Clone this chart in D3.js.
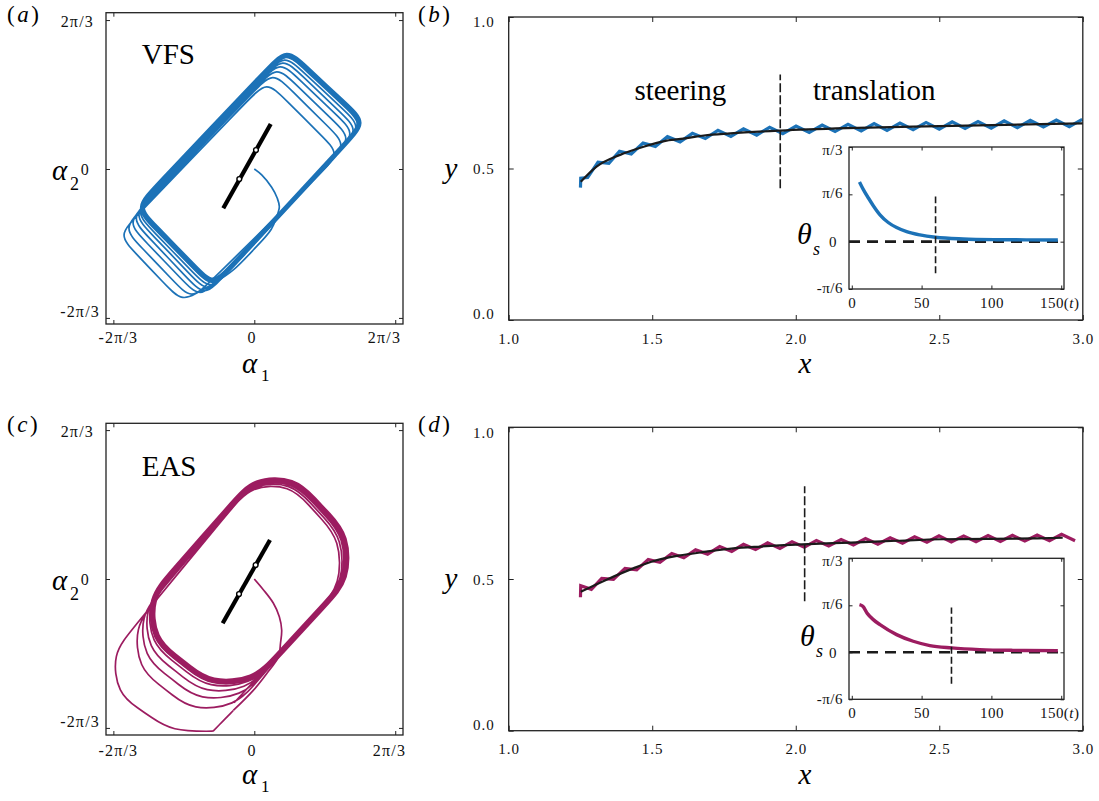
<!DOCTYPE html>
<html>
<head>
<meta charset="utf-8">
<script src="https://cdn.jsdelivr.net/npm/d3@7"></script>
<style>
  body { margin: 0; background: #fff; }
  svg { display: block; font-family: "Liberation Serif", "Times New Roman", serif; }
</style>
</head>
<body>
<svg id="fig" width="1099" height="801"></svg>
<script>
const PI = Math.PI

// ---------- (a) VFS phase portrait, values in (alpha1, alpha2) ----------
const vfsTransient = [[0.0, 0.0], [0.11, -0.084], [0.258, -0.258], [0.342, -0.412], [0.372, -0.53], [0.333, -0.671],
    [0.25, -0.85], [-0.015, -1.139], [-0.312, -1.42], [-0.56, -1.585]]
// loop corners, first loop to last (bottom, left, top, right)
const vfsBottom = [[-1.08, -1.866], [-0.931, -1.842], [-0.807, -1.819], [-0.733, -1.796], [-0.684, -1.749], [-0.649, -1.711], [-0.619, -1.678], [-0.609, -1.646]]
const vfsLeft = [[-2.021, -0.928], [-1.948, -0.834], [-1.887, -0.755], [-1.838, -0.694], [-1.799, -0.647], [-1.774, -0.609], [-1.759, -0.577], [-1.749, -0.539]]
const vfsTop = [[0.183, 1.238], [0.272, 1.369], [0.332, 1.449], [0.381, 1.519], [0.421, 1.571], [0.446, 1.613], [0.466, 1.650], [0.480, 1.683]]
const vfsRight = [[1.273, 0.211], [1.372, 0.338], [1.446, 0.431], [1.506, 0.502], [1.555, 0.549], [1.595, 0.595], [1.620, 0.628], [1.644, 0.652]]
const vfsCycle = [[-0.609, -1.646], [-1.749, -0.539], [0.480, 1.683], [1.644, 0.652]]
const vfsBody = [[-0.461, -0.553], [0.244, 0.633]]
const vfsJoints = [[-0.223, -0.141], [0.025, 0.267]]

// ---------- (c) EAS phase portrait ----------
const easTransient = [[0.0, 0.0], [0.134, -0.15], [0.282, -0.338], [0.372, -0.53], [0.407, -0.717], [0.39, -0.9],
    [0.357, -1.096], [0.183, -1.332], [-0.015, -1.567], [-0.312, -1.849]]
const easBottom = [[-0.86, -2.38], [-0.57, -2.11], [-0.47, -1.97], [-0.40, -1.87], [-0.34, -1.80], [-0.31, -1.76]]
const easLeft = [[-2.40, -1.38], [-2.07, -1.00], [-1.99, -0.84], [-1.93, -0.73], [-1.89, -0.65], [-1.86, -0.61]]
const easTop = [[0.23, 1.64], [0.25, 1.67], [0.27, 1.69], [0.28, 1.70], [0.285, 1.71], [0.29, 1.72]]
const easRight = [[1.58, 0.24], [1.62, 0.26], [1.65, 0.28], [1.67, 0.29], [1.68, 0.30], [1.69, 0.30]]
const easCycle = [[-0.30, -1.74], [-1.85, -0.59], [0.29, 1.72], [1.69, 0.30]]
const easBody = [[-0.47, -0.623], [0.233, 0.549]]
const easJoints = [[-0.227, -0.211], [0.02, 0.197]]

const phaseTicks = [-2 * PI / 3, 0, 2 * PI / 3]
const phaseLabels = ["-2π/3", "0", "2π/3"]

// ---------- (b) VFS track (x, y) ----------
const vfsTrackX = [1.250, 1.251, 1.275, 1.311, 1.349, 1.386, 1.427, 1.468, 1.511, 1.553, 1.597, 1.640, 1.685, 1.729, 1.774,
    1.818, 1.864, 1.909, 1.955, 2.001, 2.047, 2.092, 2.137, 2.182, 2.228, 2.273, 2.318, 2.363, 2.409, 2.454, 2.500,
    2.545, 2.590, 2.635, 2.681, 2.726, 2.772, 2.817, 2.863, 2.908, 2.953, 2.998]
const vfsTrackY = [0.437, 0.468, 0.470, 0.521, 0.517, 0.557, 0.548, 0.584, 0.573, 0.605, 0.588, 0.616, 0.599, 0.626, 0.606,
    0.631, 0.610, 0.636, 0.615, 0.640, 0.619, 0.643, 0.622, 0.646, 0.624, 0.648, 0.626, 0.650, 0.628, 0.652, 0.630,
    0.654, 0.632, 0.655, 0.633, 0.657, 0.635, 0.659, 0.637, 0.660, 0.638, 0.662]
const vfsMeanX = [1.251, 1.306, 1.388, 1.47, 1.55, 1.62, 1.68, 1.772, 1.945, 2.177, 2.5, 3.0]
const vfsMeanY = [0.456, 0.506, 0.545, 0.572, 0.592, 0.600, 0.609, 0.616, 0.625, 0.633, 0.640, 0.649]
const vfsSwitchX = 1.946
const vfsSwitchY = [0.435, 0.81]

// ---------- (d) EAS track ----------
const easTrackX = [1.250, 1.251, 1.288, 1.324, 1.365, 1.405, 1.446, 1.486, 1.527, 1.568, 1.610, 1.651, 1.693, 1.735, 1.777,
    1.818, 1.860, 1.902, 1.945, 1.987, 2.030, 2.072, 2.115, 2.158, 2.201, 2.243, 2.286, 2.329, 2.372, 2.414, 2.457,
    2.499, 2.542, 2.585, 2.628, 2.670, 2.713, 2.755, 2.798, 2.841, 2.884, 2.926, 2.973]
const easTrackY = [0.440, 0.478, 0.466, 0.502, 0.499, 0.535, 0.530, 0.564, 0.555, 0.584, 0.570, 0.596, 0.582, 0.607, 0.591,
    0.614, 0.597, 0.619, 0.601, 0.623, 0.605, 0.627, 0.609, 0.630, 0.612, 0.633, 0.615, 0.636, 0.618, 0.639, 0.621,
    0.642, 0.622, 0.642, 0.623, 0.643, 0.624, 0.644, 0.625, 0.645, 0.626, 0.647, 0.626]
const easMeanX = [1.251, 1.339, 1.434, 1.497, 1.592, 1.688, 1.783, 1.878, 2.043, 2.193, 2.352, 2.511, 2.671, 2.83, 2.93]
const easMeanY = [0.458, 0.497, 0.535, 0.557, 0.577, 0.590, 0.601, 0.607, 0.615, 0.620, 0.626, 0.631, 0.632, 0.634, 0.636]
const easSwitchX = 2.031
const easSwitchY = [0.427, 0.806]

const trackXTicks = [1.0, 1.5, 2.0, 2.5, 3.0]
const trackXLabels = ["1.0", "1.5", "2.0", "2.5", "3.0"]
const trackYTicks = [0.0, 0.5, 1.0]
const trackYLabels = ["0.0", "0.5", "1.0"]

// ---------- insets: steering angle theta_s over t ----------
const vfsThetaT = [5.5, 8.3, 11.9, 15.4, 20.2, 26.1, 32.1, 39.3, 48.8, 60, 79.7, 103.6, 125, 147.6]
const vfsTheta = [0.661, 0.576, 0.483, 0.398, 0.297, 0.212, 0.156, 0.111, 0.075, 0.049, 0.030, 0.022, 0.020, 0.019]
const vfsThetaSwitch = 60
const easThetaT = [5.5, 7.9, 11.2, 15.4, 20.2, 32.1, 44, 55.9, 71.4, 91.6, 115.4, 147.6]
const easTheta = [0.531, 0.512, 0.431, 0.364, 0.308, 0.197, 0.123, 0.075, 0.049, 0.030, 0.022, 0.019]
const easThetaSwitch = 71.4
const insetSwitchTheta = [-0.35, 0.5]

const insetXTicks = [0, 50, 100, 150]
const insetXLabels = ["0", "50", "100", "150"]
const insetYTicks = [-PI / 6, 0, PI / 6, PI / 3]
const insetYLabels = ["-π/6", "0", "π/6", "π/3"]

const BLUE = "#1c72b7"
const PURPLE = "#9c1c60"
const INK = "#1b1b1b"

const svg = d3.select("#fig")
svg.append("rect").attr("width", 1099).attr("height", 801).attr("fill", "#fff")

function boxAxes(g, x, y, o) {
    const [x0, x1] = x.range(), [y0, y1] = y.range()
    const bottom = g.append("g").attr("transform", `translate(0,${y0})`)
        .call(d3.axisBottom(x).tickValues(o.xTicks).tickFormat((d, i) => o.xLabels[i])
            .tickSizeInner(-o.tick).tickSizeOuter(0).tickPadding(o.xPad))
    g.append("g").attr("transform", `translate(0,${y1})`)
        .call(d3.axisTop(x).tickValues(o.xTicks).tickFormat("").tickSizeInner(-o.tick).tickSizeOuter(0))
    const left = g.append("g").attr("transform", `translate(${x0},0)`)
        .call(d3.axisLeft(y).tickValues(o.yTicks).tickFormat((d, i) => o.yLabels[i])
            .tickSizeInner(-o.tick).tickSizeOuter(0).tickPadding(o.yPad))
    g.append("g").attr("transform", `translate(${x1},0)`)
        .call(d3.axisRight(y).tickValues(o.yTicks).tickFormat("").tickSizeInner(-o.tick).tickSizeOuter(0))
    g.selectAll(".domain").remove()
    g.selectAll(".tick line").attr("stroke", "#222").attr("stroke-width", 1)
    g.append("rect").attr("x", x0).attr("y", y1).attr("width", x1 - x0).attr("height", y0 - y1)
        .attr("fill", "none").attr("stroke", "#222").attr("stroke-width", 1.3)

    g.selectAll(".tick text")
        .style("font-family", '"Liberation Serif", "Times New Roman", serif')
        .style("font-size", o.fontSize + "px")
        .style("letter-spacing", (o.spacing || 0) + "px")
        .attr("fill", "#111")
    const xo = o.xOff || [], yo = o.yOff || []
    bottom.selectAll(".tick text").attr("transform", (d, i) => `translate(${xo[i] || 0},0)`)
    left.selectAll(".tick text").attr("transform", (d, i) => yo[i] ? `translate(${yo[i][0]},${yo[i][1]})` : null)
    return { bottom, left }
}

// corner points -> B-spline control points that round each corner by r
// soft: the corner itself is replaced by two points per side, which rounds it more
function towards(p, q, r) {
    const dx = q[0] - p[0], dy = q[1] - p[1], L = Math.hypot(dx, dy)
    const t = Math.min(r, L * 0.45) / L
    return [p[0] + dx * t, p[1] + dy * t]
}
function roundCorners(pts, r, closed, soft) {
    const out = [], n = pts.length
    pts.forEach((p, i) => {
        const prev = closed ? pts[(i - 1 + n) % n] : pts[i - 1]
        const next = closed ? pts[(i + 1) % n] : pts[i + 1]
        const inner = soft && prev && next
        if (prev && inner) out.push(towards(p, prev, 2 * r))
        if (prev) out.push(towards(p, prev, r))
        if (!inner) out.push(p)
        if (next) out.push(towards(p, next, r))
        if (next && inner) out.push(towards(p, next, 2 * r))
    })
    return out
}

function phasePanel(o) {
    const x = d3.scaleLinear().domain([-2.204, 2.21]).range([106, 403])
    const y = d3.scaleLinear().domain(o.yDomain).range(o.yRange)
    const g = svg.append("g")
    const clipId = "clip" + o.tag
    g.append("clipPath").attr("id", clipId).append("rect")
        .attr("x", 106).attr("y", o.yRange[1]).attr("width", 297).attr("height", o.yRange[0] - o.yRange[1])

    const line = d3.line().x(d => x(d[0])).y(d => y(d[1]))
    const plot = g.append("g").attr("clip-path", `url(#${clipId})`)

    // converged limit cycle: a dense band
    plot.append("path").datum(roundCorners(o.cycle, o.round, true, o.soft))
        .attr("d", line.curve(d3.curveBasisClosed)).attr("fill", "none")
        .attr("stroke", o.color).attr("stroke-width", o.band)

    // transient from the start point
    plot.append("path").datum(o.transient)
        .attr("d", d3.line().x(d => x(d[0])).y(d => y(d[1])).curve(d3.curveCatmullRom)).attr("fill", "none")
        .attr("stroke", o.color).attr("stroke-width", 1.7)

    const corners = [o.transient[o.transient.length - 1]]
    o.bottom.forEach((b, k) => corners.push(b, o.left[k], o.top[k], o.right[k]))
    corners.push(o.cycle[0])
    plot.append("path").datum(roundCorners(corners, o.round, false, o.soft))
        .attr("d", line.curve(d3.curveBasis)).attr("fill", "none")
        .attr("stroke", o.color).attr("stroke-width", 1.7).attr("stroke-linejoin", "round")

    // swimmer body with its two joints
    plot.append("path").datum(o.body).attr("d", d3.line().x(d => x(d[0])).y(d => y(d[1])))
        .attr("stroke", "#000").attr("stroke-width", 4.2).attr("stroke-linecap", "butt")
    plot.selectAll("circle.joint").data(o.joints).join("circle").attr("class", "joint")
        .attr("cx", d => x(d[0])).attr("cy", d => y(d[1])).attr("r", 2.4)
        .attr("fill", "#fff").attr("stroke", "#000").attr("stroke-width", 1.4)

    boxAxes(g, x, y, {
        xTicks: phaseTicks, xLabels: phaseLabels, yTicks: phaseTicks, yLabels: phaseLabels,
        tick: 4, xPad: o.xPad, yPad: 6, fontSize: 16, spacing: 1.2,
        xOff: o.xOff, yOff: [[0, -7], [-10, 0], [-6, 1.7]]
    })

    g.append("text").attr("x", 141.7).attr("y", o.nameY).attr("font-size", 29).text(o.name)
    const lab = g.append("text").attr("x", 7).attr("y", o.tagY).attr("font-size", 23).style("letter-spacing", "2.5px")
    lab.append("tspan").text("(")
    lab.append("tspan").attr("font-style", "italic").text(o.tag)
    lab.append("tspan").text(")")

    g.append("text").attr("x", 242).attr("y", o.a1Y).attr("font-size", 29).attr("font-style", "italic").text("α")
    g.append("text").attr("x", 261).attr("y", o.a1Y + 8).attr("font-size", 17).text("1")
    g.append("text").attr("x", 52).attr("y", o.a2Y).attr("font-size", 29).attr("font-style", "italic").text("α")
    g.append("text").attr("x", 70).attr("y", o.a2Y + 10).attr("font-size", 18).text("2")
}

function trackPanel(o) {
    const x = d3.scaleLinear().domain([1, 3]).range([508.7, 1082.8])
    const y = d3.scaleLinear().domain([0, 1]).range(o.yRange)
    const g = svg.append("g")

    const track = o.trackX.map((v, i) => [v, o.trackY[i]])
    const mean = o.meanX.map((v, i) => [v, o.meanY[i]])
    g.append("path").datum(track)
        .attr("d", d3.line().x(d => x(d[0])).y(d => y(d[1])))
        .attr("fill", "none").attr("stroke", o.color).attr("stroke-width", 3.2).attr("stroke-linejoin", "miter")
    g.append("path").datum(mean)
        .attr("d", d3.line().x(d => x(d[0])).y(d => y(d[1])).curve(d3.curveMonotoneX))
        .attr("fill", "none").attr("stroke", INK).attr("stroke-width", 2.2)

    g.append("line").attr("x1", x(o.switchX)).attr("x2", x(o.switchX))
        .attr("y1", y(o.switchY[0])).attr("y2", y(o.switchY[1]))
        .attr("stroke", INK).attr("stroke-width", 1.6).attr("stroke-dasharray", "9,3")

    boxAxes(g, x, y, {
        xTicks: trackXTicks, xLabels: trackXLabels, yTicks: trackYTicks, yLabels: trackYLabels,
        tick: 5, xPad: 13, yPad: 14, fontSize: 15, spacing: 1,
        yOff: [[0, -6], [0, 0.5], [0, 5]]
    })

    const lab = g.append("text").attr("x", 418).attr("y", o.tagY).attr("font-size", 23).style("letter-spacing", "2.5px")
    lab.append("tspan").text("(")
    lab.append("tspan").attr("font-style", "italic").text(o.tag)
    lab.append("tspan").text(")")
    g.append("text").attr("x", 451).attr("y", o.yLabY).attr("text-anchor", "middle")
        .attr("font-size", 29).attr("font-style", "italic").text("y")
    g.append("text").attr("x", 805).attr("y", o.xLabY).attr("text-anchor", "middle")
        .attr("font-size", 29).attr("font-style", "italic").text("x")
    if (o.phases) {
        g.append("text").attr("x", 634.4).attr("y", 100).attr("font-size", 29).text("steering")
        g.append("text").attr("x", 813).attr("y", 100).attr("font-size", 29).text("translation")
    }

    // inset
    const tx = d3.scaleLinear().domain([-2, 152]).range([849, 1064])
    const ty = d3.scaleLinear().domain([-PI / 6, PI / 3]).range(o.insetRange)
    const ig = g.append("g")
    ig.append("rect").attr("x", 849).attr("y", o.insetRange[1]).attr("width", 215)
        .attr("height", o.insetRange[0] - o.insetRange[1]).attr("fill", "#fff")
    ig.append("line").attr("x1", tx(-2)).attr("x2", tx(152)).attr("y1", ty(0)).attr("y2", ty(0))
        .attr("stroke", INK).attr("stroke-width", 2.6).attr("stroke-dasharray", "11,7")
    ig.append("path").datum(o.thetaT.map((t, i) => [t, o.theta[i]]))
        .attr("d", d3.line().x(d => tx(d[0])).y(d => ty(d[1])).curve(d3.curveMonotoneX))
        .attr("fill", "none").attr("stroke", o.color).attr("stroke-width", 3.4)
    ig.append("line").attr("x1", tx(o.thetaSwitch)).attr("x2", tx(o.thetaSwitch))
        .attr("y1", ty(insetSwitchTheta[0])).attr("y2", ty(insetSwitchTheta[1]))
        .attr("stroke", INK).attr("stroke-width", 1.6).attr("stroke-dasharray", "7,3")

    const ax = boxAxes(ig, tx, ty, {
        xTicks: insetXTicks, xLabels: insetXLabels, yTicks: insetYTicks, yLabels: insetYLabels,
        tick: 3.5, xPad: 8, yPad: 6, fontSize: 15, spacing: 0.5,
        xOff: [0, 0, 0, -2], yOff: [[0, -1], [-6, 0], [0, -1.5], [0, 2.5]]
    })
    ax.bottom.selectAll(".tick text").filter(d => d === 150).each(function () {
        const t = d3.select(this).text("150")
        t.append("tspan").text("(")
        t.append("tspan").attr("font-style", "italic").text("t")
        t.append("tspan").text(")")
    })
    ig.append("text").attr("x", o.thX).attr("y", o.thY).attr("font-size", 30).attr("font-style", "italic").text("θ")
    ig.append("text").attr("x", o.thX + 16).attr("y", o.thY + 11).attr("font-size", 18).attr("font-style", "italic").text("s")
}

phasePanel({
    tag: "a", name: "VFS", color: BLUE, yDomain: [-2.18, 2.198], yRange: [324, 12.7],
    transient: vfsTransient, bottom: vfsBottom, left: vfsLeft, top: vfsTop, right: vfsRight,
    cycle: vfsCycle, round: 0.36, soft: false, band: 5, body: vfsBody, joints: vfsJoints,
    xPad: 8, xOff: [4.5, -2.6, -11.3], nameY: 64.3, tagY: 22, a1Y: 373, a2Y: 180
})
phasePanel({
    tag: "c", name: "EAS", color: PURPLE, yDomain: [-2.194, 2.19], yRange: [735, 423.3],
    transient: easTransient, bottom: easBottom, left: easLeft, top: easTop, right: easRight,
    cycle: easCycle, round: 0.44, soft: true, band: 6, body: easBody, joints: easJoints,
    xPad: 10, xOff: [4.5, -2.6, -6.3], nameY: 476, tagY: 432, a1Y: 784, a2Y: 590
})
trackPanel({
    tag: "b", color: BLUE, yRange: [320, 17], trackX: vfsTrackX, trackY: vfsTrackY,
    meanX: vfsMeanX, meanY: vfsMeanY, switchX: vfsSwitchX, switchY: vfsSwitchY, phases: true,
    tagY: 22, yLabY: 178, xLabY: 373, insetRange: [289, 147],
    thetaT: vfsThetaT, theta: vfsTheta, thetaSwitch: vfsThetaSwitch, thX: 797, thY: 244
})
trackPanel({
    tag: "d", color: PURPLE, yRange: [730.7, 427.3], trackX: easTrackX, trackY: easTrackY,
    meanX: easMeanX, meanY: easMeanY, switchX: easSwitchX, switchY: easSwitchY, phases: false,
    tagY: 432, yLabY: 588, xLabY: 784, insetRange: [699.3, 558.3],
    thetaT: easThetaT, theta: easTheta, thetaSwitch: easThetaSwitch, thX: 800, thY: 646
})
</script>
</body>
</html>
